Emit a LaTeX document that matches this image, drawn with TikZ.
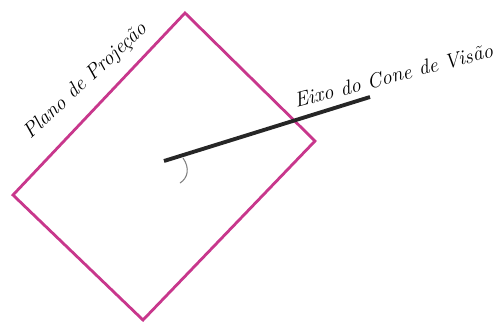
\documentclass[tikz,border=0pt]{standalone}
\usepackage{tikz}
\definecolor{PlanoMagenta}{HTML}{C8378C}
\definecolor{EixoGray}{HTML}{262626}

\begin{document}
\begin{tikzpicture}[x=0.02cm, y=-0.02cm,
        rotulo/.style={inner sep=0pt, anchor=base west, font=\fontsize{11.8}{14}\selectfont\itshape}]
        \useasboundingbox (0,0) rectangle (501,322);
        % Plano de projecao
        \coordinate (topo) at (185,13); \coordinate (dir) at (315,141);
        \coordinate (base) at (143,320); \coordinate (esq) at (13,195);
        \draw[PlanoMagenta, line width=1.6pt, line join=miter] (topo) -- (dir) -- (base) -- (esq) -- cycle;
        % Eixo do cone
        \coordinate (eixoA) at (164,161); \coordinate (eixoB) at (370,97);
        \draw[EixoGray, line width=2.2pt] (eixoA) -- (eixoB);
        \draw[gray, line width=0.6pt] (183,158) .. controls (190,168) and (188,178) .. (180,183);
        % Textos
        \node[rotulo, rotate=43] (plano) at (30,140) {Plano de Projeção};
        \node[rotulo, rotate=14.5] (eixo) at (296,108) {Eixo do Cone de Visão};
      \end{tikzpicture}
\end{document}
